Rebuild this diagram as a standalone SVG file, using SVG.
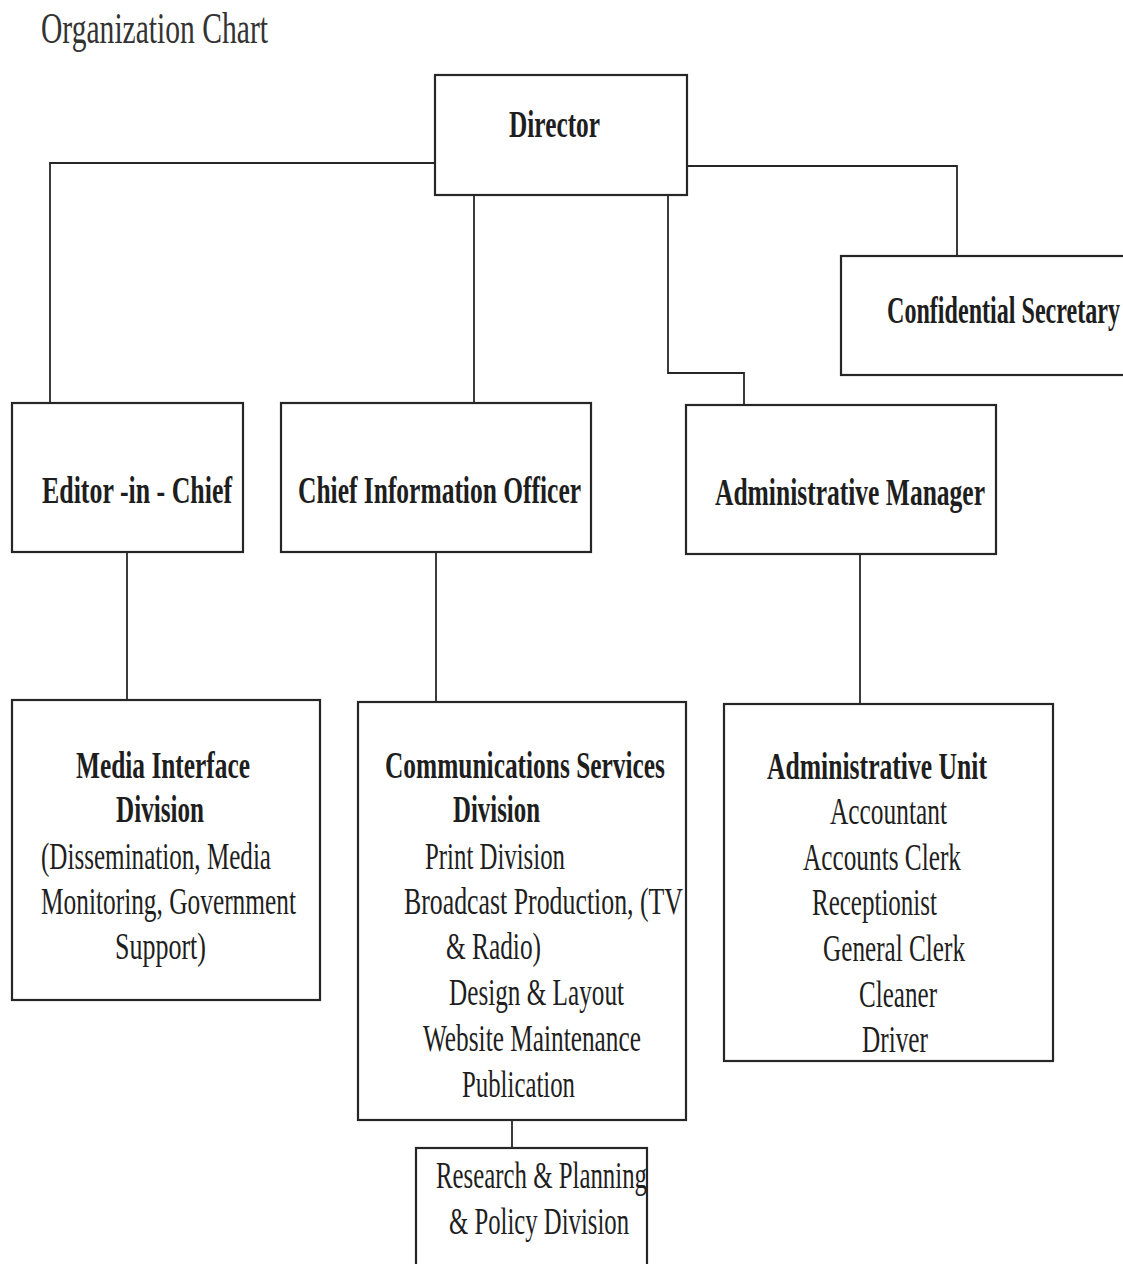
<svg xmlns="http://www.w3.org/2000/svg" width="1123" height="1264" viewBox="0 0 1123 1264">
<style>
.box{fill:#fff;stroke:#262626;stroke-width:2.2}
.ln{fill:none;stroke:#262626;stroke-width:1.8}
text{font-family:"Liberation Serif","Times New Roman",serif;fill:#1e1e1e}
.b{font-weight:bold;font-size:38px}
.r{font-size:38px}
.t{font-size:45px;fill:#333}
</style>
<rect width="1123" height="1264" fill="#fff"/>
<text class="t" x="41" y="43" textLength="227" lengthAdjust="spacingAndGlyphs">Organization Chart</text>
<g id="connectors">
<path class="ln" d="M436,163 H50 V403"/>
<path class="ln" d="M687,166 H957 V256"/>
<path class="ln" d="M474,195 V403"/>
<path class="ln" d="M668,195 V373 H744 V405"/>
<path class="ln" d="M127,552 V700"/>
<path class="ln" d="M436,552 V702"/>
<path class="ln" d="M860,554 V704"/>
<path class="ln" d="M512,1120 V1148"/>
</g>
<g id="director">
<rect class="box" x="435" y="75" width="252" height="120"/>
<text class="b" x="509" y="137" textLength="91" lengthAdjust="spacingAndGlyphs">Director</text>
</g>
<g id="confidential-secretary">
<rect class="box" x="841" y="256" width="300" height="119"/>
<text class="b" x="887" y="323" textLength="233" lengthAdjust="spacingAndGlyphs">Confidential Secretary</text>
</g>
<g id="editor-in-chief">
<rect class="box" x="12" y="403" width="231" height="149"/>
<text class="b" x="42" y="503" textLength="190" lengthAdjust="spacingAndGlyphs">Editor -in - Chief</text>
</g>
<g id="chief-information-officer">
<rect class="box" x="281" y="403" width="310" height="149"/>
<text class="b" x="298" y="503" textLength="283" lengthAdjust="spacingAndGlyphs">Chief Information Officer</text>
</g>
<g id="administrative-manager">
<rect class="box" x="686" y="405" width="310" height="149"/>
<text class="b" x="715" y="505" textLength="270" lengthAdjust="spacingAndGlyphs">Administrative Manager</text>
</g>
<g id="media-interface-division">
<rect class="box" x="12" y="700" width="308" height="300"/>
<text class="b" x="76" y="778" textLength="174" lengthAdjust="spacingAndGlyphs">Media Interface</text>
<text class="b" x="116" y="822" textLength="88" lengthAdjust="spacingAndGlyphs">Division</text>
<text class="r" x="41" y="869" textLength="230" lengthAdjust="spacingAndGlyphs">(Dissemination, Media</text>
<text class="r" x="41" y="914" textLength="255" lengthAdjust="spacingAndGlyphs">Monitoring, Government</text>
<text class="r" x="115" y="959" textLength="91" lengthAdjust="spacingAndGlyphs">Support)</text>
</g>
<g id="communications-services-division">
<rect class="box" x="358" y="702" width="328" height="418"/>
<text class="b" x="385" y="778" textLength="280" lengthAdjust="spacingAndGlyphs">Communications Services</text>
<text class="b" x="453" y="822" textLength="87" lengthAdjust="spacingAndGlyphs">Division</text>
<text class="r" x="425" y="869" textLength="140" lengthAdjust="spacingAndGlyphs">Print Division</text>
<text class="r" x="404" y="914" textLength="279" lengthAdjust="spacingAndGlyphs">Broadcast Production, (TV</text>
<text class="r" x="446" y="959" textLength="95" lengthAdjust="spacingAndGlyphs">&amp; Radio)</text>
<text class="r" x="449" y="1005" textLength="175" lengthAdjust="spacingAndGlyphs">Design &amp; Layout</text>
<text class="r" x="423" y="1051" textLength="218" lengthAdjust="spacingAndGlyphs">Website Maintenance</text>
<text class="r" x="462" y="1097" textLength="113" lengthAdjust="spacingAndGlyphs">Publication</text>
</g>
<g id="research-planning-policy-division">
<rect class="box" x="416" y="1148" width="231" height="130"/>
<text class="r" x="436" y="1188" textLength="211" lengthAdjust="spacingAndGlyphs">Research &amp; Planning</text>
<text class="r" x="449" y="1234" textLength="180" lengthAdjust="spacingAndGlyphs">&amp; Policy Division</text>
</g>
<g id="administrative-unit">
<rect class="box" x="724" y="704" width="329" height="357"/>
<text class="b" x="767" y="779" textLength="220" lengthAdjust="spacingAndGlyphs">Administrative Unit</text>
<text class="r" x="830" y="824" textLength="117" lengthAdjust="spacingAndGlyphs">Accountant</text>
<text class="r" x="803" y="870" textLength="158" lengthAdjust="spacingAndGlyphs">Accounts Clerk</text>
<text class="r" x="812" y="915" textLength="125" lengthAdjust="spacingAndGlyphs">Receptionist</text>
<text class="r" x="823" y="961" textLength="142" lengthAdjust="spacingAndGlyphs">General Clerk</text>
<text class="r" x="859" y="1007" textLength="78" lengthAdjust="spacingAndGlyphs">Cleaner</text>
<text class="r" x="862" y="1052" textLength="66" lengthAdjust="spacingAndGlyphs">Driver</text>
</g>
</svg>
